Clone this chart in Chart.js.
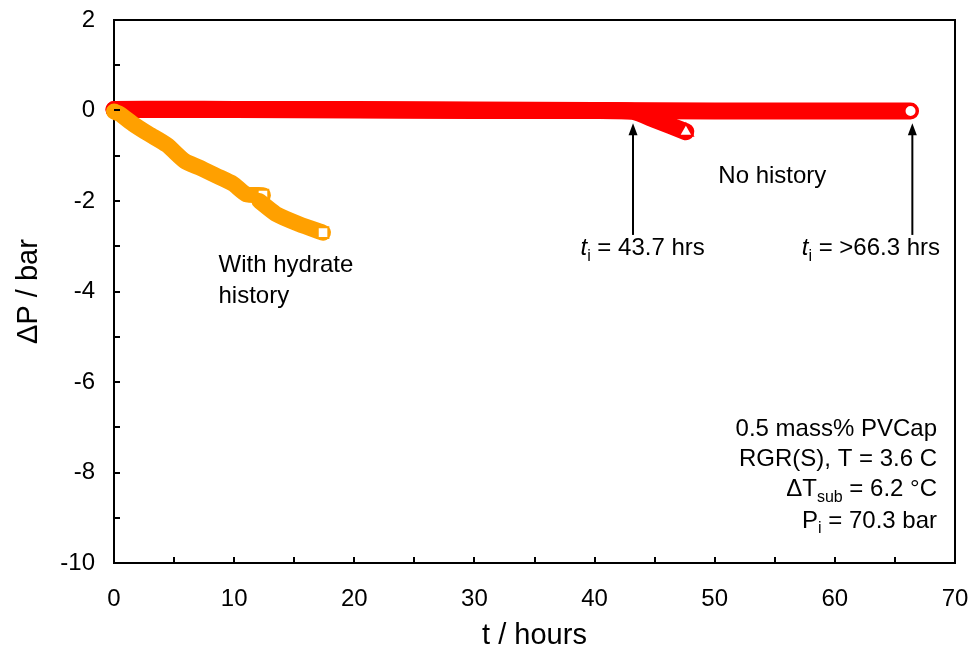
<!DOCTYPE html>
<html>
<head>
<meta charset="utf-8">
<script src="https://cdn.jsdelivr.net/npm/chart.js@4.4.1/dist/chart.umd.min.js"></script>
<style>
  html, body { margin: 0; padding: 0; background: #fff; }
  #wrap { width: 971px; height: 648px; }
</style>
</head>
<body>
<div id="wrap"><canvas id="chart" width="971" height="648"></canvas></div>
<script>
// pressure drop vs time, hydrate history run (two pieces) and no-history runs
const hydrateT1 = [0, 0.5, 1.6, 2.9, 4.4, 5.9, 7.1, 8.5, 9.9, 11.0, 12.4];
const hydrateDP1 = [-0.02, -0.08, -0.3, -0.52, -0.76, -1.12, -1.26, -1.44, -1.62, -1.85, -1.87];
const hydrateT2 = [12.1, 13.5, 15.4, 17.4];
const hydrateDP2 = [-2.0, -2.29, -2.51, -2.70];

const noHistT = [0, 5, 10, 20, 30, 40, 43.2, 45, 47.6];
const noHistDP = [0.02, 0.03, 0.02, 0.02, 0.01, 0.0, -0.02, -0.2, -0.47];

const longT = [0, 10, 20, 30, 40, 50, 60, 66.3];
const longDP = [0.02, 0.02, 0.01, 0.0, 0.0, -0.01, -0.01, -0.01];

// induction time arrows: [t, tip dP, tail dP]
const arrowT = [43.2, 66.45];
const arrowTip = [-0.28, -0.28];
const arrowTail = [-2.75, -2.75];

const xTicks = [0, 10, 20, 30, 40, 50, 60, 70];
const yTicks = [-10, -8, -6, -4, -2, 0, 2];

const RED = '#ff0000';
const ORANGE = '#ffa000';
const FONT = '"Liberation Sans", Arial, sans-serif';

function pts(xs, ys) {
  return xs.map((x, i) => ({ x: x, y: ys[i] }));
}
function endOnly(arr, r) {
  return arr.map((_, i) => (i === arr.length - 1 ? r : 0));
}

// text with italic / subscript pieces
function richText(ctx, parts, x, y, align, size) {
  const fontOf = p => (p.italic ? 'italic ' : '') + (p.sub ? Math.round(size * 0.65) : size) + 'px ' + FONT;
  let total = 0;
  parts.forEach(p => { ctx.font = fontOf(p); total += ctx.measureText(p.t).width; });
  let cx = align === 'right' ? x - total : align === 'center' ? x - total / 2 : x;
  ctx.textAlign = 'left';
  ctx.textBaseline = 'alphabetic';
  parts.forEach(p => {
    ctx.font = fontOf(p);
    ctx.fillText(p.t, cx, p.sub ? y + size * 0.22 : y);
    cx += ctx.measureText(p.t).width;
  });
}

const decor = {
  id: 'decor',
  afterDraw(chart) {
    const ctx = chart.ctx;
    const a = chart.chartArea;
    const xs = chart.scales.x, ys = chart.scales.y;
    ctx.save();
    ctx.strokeStyle = '#000';
    ctx.fillStyle = '#000';
    ctx.lineWidth = 2;

    // top and right frame
    ctx.beginPath();
    ctx.moveTo(a.left, a.top);
    ctx.lineTo(a.right, a.top);
    ctx.lineTo(a.right, a.bottom);
    ctx.stroke();

    // inward tick marks
    ctx.beginPath();
    for (let v = -10; v <= 2; v++) {
      const py = Math.round(ys.getPixelForValue(v));
      ctx.moveTo(a.left, py);
      ctx.lineTo(a.left + 6, py);
    }
    for (let v = 0; v <= 70; v += 5) {
      const px = Math.round(xs.getPixelForValue(v));
      ctx.moveTo(px, a.bottom);
      ctx.lineTo(px, a.bottom - 6);
    }
    ctx.stroke();

    // arrows
    arrowT.forEach((t, i) => {
      const px = xs.getPixelForValue(t);
      const tip = ys.getPixelForValue(arrowTip[i]);
      const tail = ys.getPixelForValue(arrowTail[i]);
      ctx.beginPath();
      ctx.moveTo(px, tail);
      ctx.lineTo(px, tip + 10);
      ctx.stroke();
      ctx.beginPath();
      ctx.moveTo(px, tip);
      ctx.lineTo(px - 4.5, tip + 12);
      ctx.lineTo(px + 4.5, tip + 12);
      ctx.closePath();
      ctx.fill();
    });

    // labels
    const S = 24;
    ctx.fillStyle = '#000';
    const lx = v => xs.getPixelForValue(v);
    const ly = v => ys.getPixelForValue(v);
    richText(ctx, [{ t: 't', italic: true }, { t: 'i', sub: true }, { t: ' = 43.7 hrs' }], lx(44.0), ly(-3.2), 'center', S);
    richText(ctx, [{ t: 't', italic: true }, { t: 'i', sub: true }, { t: ' = >66.3 hrs' }], lx(63.0), ly(-3.2), 'center', S);
    richText(ctx, [{ t: 'No history' }], lx(50.3), ly(-1.6), 'left', S);
    richText(ctx, [{ t: 'With hydrate' }], lx(8.7), ly(-3.57), 'left', S);
    richText(ctx, [{ t: 'history' }], lx(8.7), ly(-4.26), 'left', S);

    const rx = a.right - 18;
    richText(ctx, [{ t: '0.5 mass% PVCap' }], rx, ly(-7.19), 'right', S);
    richText(ctx, [{ t: 'RGR(S), T = 3.6 C' }], rx, ly(-7.85), 'right', S);
    richText(ctx, [{ t: '\u0394T' }, { t: 'sub', sub: true }, { t: ' = 6.2 \u00b0C' }], rx, ly(-8.53), 'right', S);
    richText(ctx, [{ t: 'P' }, { t: 'i', sub: true }, { t: ' = 70.3 bar' }], rx, ly(-9.22), 'right', S);

    // axis titles
    ctx.font = '29px ' + FONT;
    ctx.textAlign = 'center';
    ctx.textBaseline = 'alphabetic';
    ctx.fillText('t / hours', (a.left + a.right) / 2, 644);
    ctx.save();
    ctx.translate(37, (a.top + a.bottom) / 2);
    ctx.rotate(-Math.PI / 2);
    ctx.fillText('\u0394P / bar', 0, 0);
    ctx.restore();

    ctx.restore();
  }
};

const lineStyle = {
  showLine: true,
  fill: false,
  tension: 0.2,
  borderCapStyle: 'round',
  borderJoinStyle: 'round',
  pointBackgroundColor: '#fff',
  pointBorderWidth: 2,
  clip: false
};

new Chart(document.getElementById('chart'), {
  type: 'scatter',
  data: {
    datasets: [
      Object.assign({}, lineStyle, {
        data: pts(hydrateT2, hydrateDP2),
        borderColor: ORANGE, borderWidth: 16,
        pointBorderColor: ORANGE, pointStyle: 'rect',
        pointRadius: endOnly(hydrateT2, 7.5), order: 0
      }),
      Object.assign({}, lineStyle, {
        data: pts(hydrateT1, hydrateDP1),
        borderColor: ORANGE, borderWidth: 16,
        pointBorderColor: ORANGE, pointStyle: 'rect',
        pointRadius: endOnly(hydrateT1, 7.5), order: 1
      }),
      Object.assign({}, lineStyle, {
        data: pts(noHistT, noHistDP),
        borderColor: RED, borderWidth: 17,
        pointBorderColor: RED, pointStyle: 'triangle',
        pointRadius: endOnly(noHistT, 8), order: 2
      }),
      Object.assign({}, lineStyle, {
        data: pts(longT, longDP),
        borderColor: RED, borderWidth: 17,
        pointBorderColor: RED, pointStyle: 'circle',
        pointRadius: endOnly(longT, 6), order: 3
      })
    ]
  },
  options: {
    responsive: false,
    animation: false,
    events: [],
    layout: { padding: { top: 20, right: 16, left: 0, bottom: 0 } },
    plugins: { legend: { display: false }, tooltip: { enabled: false } },
    scales: {
      x: {
        type: 'linear', min: 0, max: 70,
        afterBuildTicks: s => { s.ticks = xTicks.map(v => ({ value: v })); },
        ticks: { color: '#000', font: { family: FONT, size: 24 }, padding: 22 },
        grid: { display: false, drawTicks: false },
        border: { color: '#000', width: 2 },
        afterFit: s => { s.height = 85; s.paddingLeft = 0; s.paddingRight = 0; }
      },
      y: {
        type: 'linear', min: -10, max: 2,
        afterBuildTicks: s => { s.ticks = yTicks.map(v => ({ value: v })); },
        ticks: { color: '#000', font: { family: FONT, size: 24 }, padding: 19 },
        grid: { display: false, drawTicks: false },
        border: { color: '#000', width: 2 },
        afterFit: s => { s.width = 114; s.paddingTop = 0; s.paddingBottom = 0; }
      }
    }
  },
  plugins: [decor]
});
</script>
</body>
</html>
